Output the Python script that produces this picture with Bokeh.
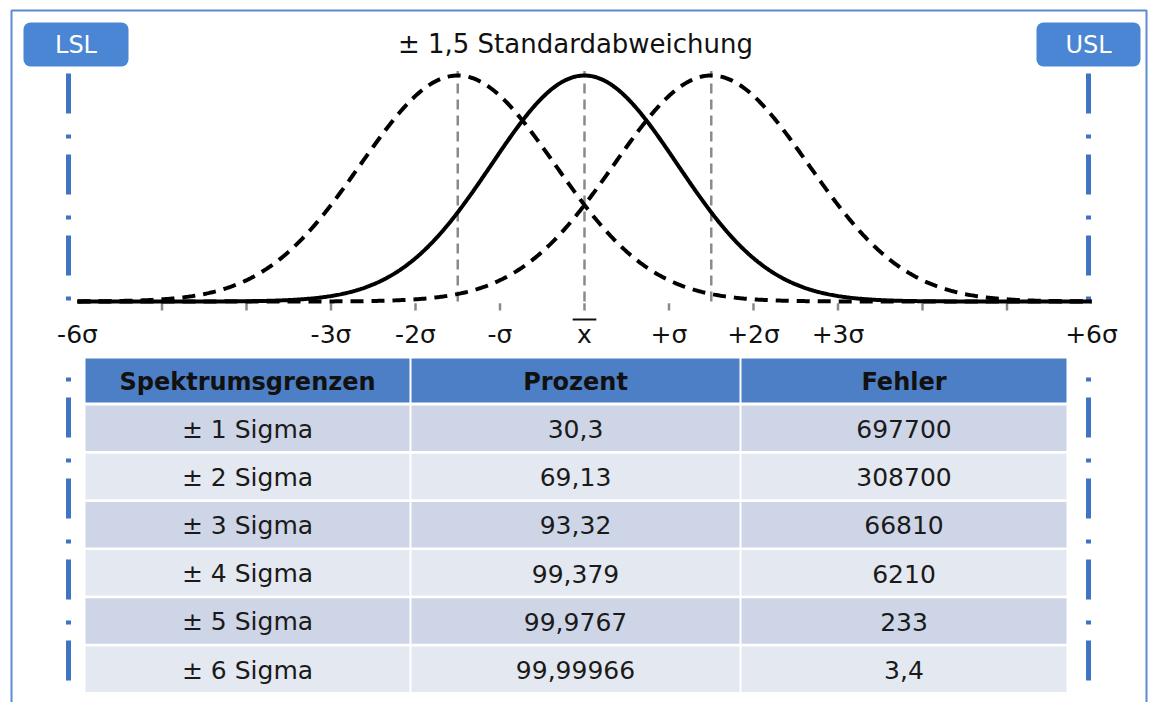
import numpy as np
from bokeh.plotting import figure
from bokeh.models import Range1d
from bokeh.core.properties import value
from bokeh.embed import file_html
from bokeh.resources import INLINE

# ---------------- data ----------------
title_text = "± 1,5 Standardabweichung"
curve_means = [-1.5, 0.0, 1.5]          # in sigma units
curve_sds = [1.15, 1.1, 1.15]
curve_dashed = [True, False, True]
x_min, x_max = -6.0, 6.0
tick_positions = [-5, -4, -3, -2, -1, 0, 1, 2, 3, 4, 5]
label_positions = [-3, -2, -1, 0, 1, 2, 3]
label_texts = ["-3σ", "-2σ", "-σ", "x", "+σ", "+2σ", "+3σ"]
end_positions = [-6, 6]
end_texts = ["-6σ", "+6σ"]
mean_markers = [-1.5, 0.0, 1.5]
spec_limits = ["LSL", "USL"]
table_header = ["Spektrumsgrenzen", "Prozent", "Fehler"]
sigma_levels = ["± 1 Sigma", "± 2 Sigma", "± 3 Sigma", "± 4 Sigma", "± 5 Sigma", "± 6 Sigma"]
prozent = ["30,3", "69,13", "93,32", "99,379", "99,9767", "99,99966"]
fehler = ["697700", "308700", "66810", "6210", "233", "3,4"]

# ---------------- layout (image pixel space) ----------------
W, H, OFF = 1152, 702, 0
X0, SX = 584.0, 84.5        # image x of mean, px per sigma
Y0, SY = 301.0, 226.0       # image y of baseline, px per peak height
FONT = value("DejaVu Sans")

p = figure(width=W, height=H,
           x_range=Range1d((OFF - X0) / SX, (OFF + W - X0) / SX),
           y_range=Range1d((Y0 - (OFF + H)) / SY, (Y0 - OFF) / SY),
           output_backend="svg", toolbar_location=None,
           x_axis_location=None, y_axis_location=None, min_border=0)
p.extra_x_ranges = {"px": Range1d(OFF, OFF + W)}
p.extra_y_ranges = {"px": Range1d(OFF + H, OFF)}
p.grid.visible = False
p.outline_line_color = None
p.background_fill_color = "white"
p.border_fill_color = "white"
PX = dict(x_range_name="px", y_range_name="px")

# outer frame
p.line(x=[11, 11, 1146, 1146], y=[720, 10, 10, 720], line_color="#5B8BD0", line_width=2, **PX)

# LSL / USL dash-dot lines
p.segment(x0=[68, 1088], y0=[73, 73], x1=[68, 1088], y1=[692, 692],
          line_color="#3F74C4", line_width=5, line_dash="40 21 4 16", **PX)

# LSL / USL boxes
p.quad(left=[23, 1036], right=[128, 1140], top=[22, 22], bottom=[66, 66],
       fill_color="#4A86D4", line_color=None, border_radius=7, **PX)
p.text(x=[75.5, 1088], y=[44, 44], text=spec_limits, text_color="white",
       text_font=FONT, text_font_size="24px", text_align="center",
       text_baseline="middle", **PX)

# title
p.text(x=[575], y=[43], text=[title_text], text_color="#111111",
       text_font=FONT, text_font_size="26px", text_align="center",
       text_baseline="middle", **PX)

# mean marker lines
p.segment(x0=mean_markers, y0=[0] * 3, x1=mean_markers, y1=[1.02] * 3,
          line_color="#8A8A8A", line_width=2.5, line_dash="10 6")

# ticks
p.segment(x0=tick_positions, y0=[-0.008] * len(tick_positions),
          x1=tick_positions, y1=[-0.04] * len(tick_positions),
          line_color="#8A8A8A", line_width=2.5)

# curves
u = np.linspace(x_min, x_max, 800)
for m, s, d in zip(curve_means, curve_sds, curve_dashed):
    v = np.exp(-((u - m) ** 2) / (2 * s * s))
    if d:
        p.line(u, v, line_color="black", line_width=4, line_dash="13 8")
for m, s, d in zip(curve_means, curve_sds, curve_dashed):
    v = np.exp(-((u - m) ** 2) / (2 * s * s))
    if not d:
        p.line(u, v, line_color="black", line_width=4)

# axis labels
ylab = (Y0 - 334) / SY
p.text(x=label_positions, y=[ylab] * len(label_positions), text=label_texts,
       text_color="#111111", text_font=FONT, text_font_size="25px",
       text_align="center", text_baseline="middle")
p.text(x=end_positions, y=[ylab] * 2, text=end_texts,
       text_color="#111111", text_font=FONT, text_font_size="25px",
       text_align="center", text_baseline="middle",
       background_fill_color="white", padding=12)
# overline of x-bar
yo = (Y0 - 319) / SY
p.segment(x0=[-0.14], y0=[yo], x1=[0.14], y1=[yo], line_color="#111111", line_width=2)

# table
col_left = [85, 411, 741]
col_right = [409, 739, 1066]
col_center = [(a + b) / 2 for a, b in zip(col_left, col_right)]
p.quad(left=col_left, right=col_right, top=[358] * 3, bottom=[402] * 3,
       fill_color="#4D7FC6", line_color=None, **PX)
p.text(x=col_center, y=[381] * 3, text=table_header, text_color="#111111",
       text_font=FONT, text_font_size="24px", text_font_style="bold",
       text_align="center", text_baseline="middle", **PX)

row_h = 48.2
n = len(sigma_levels)
tops = [405 + i * row_h for i in range(n)]
bottoms = [t + 45.5 for t in tops]
centers = [t + 23.5 for t in tops]
row_colors = ["#CDD5E6" if i % 2 == 0 else "#E4E8F1" for i in range(n)]
for cl, cr in zip(col_left, col_right):
    p.quad(left=[cl] * n, right=[cr] * n, top=tops, bottom=bottoms,
           fill_color=row_colors, line_color=None, **PX)
for cc, col in zip(col_center, [sigma_levels, prozent, fehler]):
    p.text(x=[cc] * n, y=centers, text=col, text_color="#1A1A1A",
           text_font=FONT, text_font_size="25px", text_align="center",
           text_baseline="middle", **PX)

open("out.html", "w").write(file_html(p, INLINE))
